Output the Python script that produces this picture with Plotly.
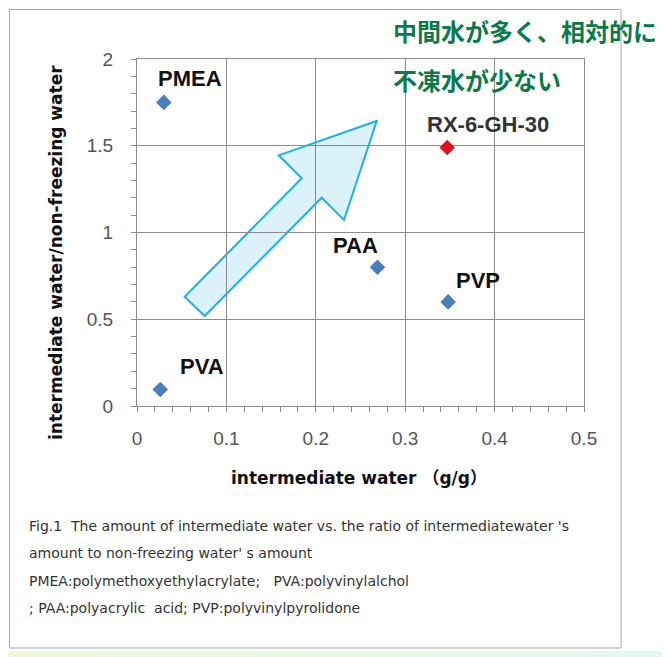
import plotly.graph_objects as go

# ---- data ----
names = ["PMEA", "PVA", "PAA", "PVP", "RX-6-GH-30"]
x_vals = [0.030, 0.026, 0.269, 0.348, 0.347]
y_vals = [1.75, 0.095, 0.80, 0.60, 1.49]
colors = ["#4a7ebb", "#4a7ebb", "#4a7ebb", "#4a7ebb", "#e0101e"]
label_colors = ["#111111", "#111111", "#111111", "#111111", "#333333"]
# label offsets from the marker in pixels (dx, dy up)
label_dx = [26, 42, -22, 30, 41]
label_dy = [24, 23, 22, 21, 23]

x_ticks = [0, 0.1, 0.2, 0.3, 0.4, 0.5]
x_ticktext = ["0", "0.1", "0.2", "0.3", "0.4", "0.5"]
y_ticks = [0, 0.5, 1, 1.5, 2]
y_ticktext = ["0", "0.5", "1", "1.5", "2"]

x_title = "intermediate water\u00a0（g/g）"
y_title = "intermediate water/non-freezing water"
jp_lines = ["中間水が多く、相対的に", "不凍水が少ない"]
caption_lines = [
    "Fig.1\u00a0\u00a0The amount of intermediate water vs. the ratio of intermediatewater 's",
    "amount to non-freezing water' s amount",
    "PMEA:polymethoxyethylacrylate;\u00a0\u00a0 PVA:polyvinylalchol",
    "; PAA:polyacrylic\u00a0 acid; PVP:polyvinylpyrolidone",
]

# ---- layout geometry (screen pixels; page body has an 8px margin) ----
OFF = 8
SW, SH = 670, 657
W, H = SW - OFF, SH - OFF
L, R_EDGE, T, B_EDGE = 137 - OFF, 584 - OFF, 59 - OFF, 406 - OFF
PW, PH = R_EDGE - L, B_EDGE - T


def px(xs):
    return (xs - OFF - L) / PW


def py(ys):
    return (B_EDGE - (ys - OFF)) / PH


fig = go.Figure()
fig.add_trace(go.Scatter(
    x=x_vals, y=y_vals, mode="markers",
    marker=dict(symbol="diamond", size=12, color=colors, line=dict(width=0)),
    hoverinfo="skip", showlegend=False,
))

annotations = []
for n, xv, yv, c, dx, dy in zip(names, x_vals, y_vals, label_colors, label_dx, label_dy):
    annotations.append(dict(
        x=xv, y=yv, xref="x", yref="y", text=f"<b>{n}</b>", showarrow=False,
        xanchor="center", yanchor="middle",
        xshift=dx, yshift=dy, font=dict(family="Liberation Sans", size=22, color=c),
    ))

annotations.append(dict(
    x=px(56), y=py(253), xref="paper", yref="paper", text=f"<b>{y_title}</b>",
    showarrow=False, textangle=-90, xanchor="center", yanchor="middle",
    font=dict(family="DejaVu Sans", size=17, color="#111111"),
))
annotations.append(dict(
    x=px(359), y=py(478), xref="paper", yref="paper", text=f"<b>{x_title}</b>",
    showarrow=False, xanchor="center", yanchor="middle",
    font=dict(family="DejaVu Sans, Noto Sans CJK JP", size=17, color="#111111"),
))
for i, line in enumerate(jp_lines):
    annotations.append(dict(
        x=px(391), y=py([31, 80][i]), xref="paper", yref="paper", text=f"<b>{line}</b>",
        showarrow=False, xanchor="left", yanchor="middle",
        font=dict(family="Noto Sans CJK JP", size=24, color="#0b7a4b"),
    ))
for i, line in enumerate(caption_lines):
    annotations.append(dict(
        x=px(27), y=py([526, 553, 581, 608][i]), xref="paper", yref="paper", text=line,
        showarrow=False, xanchor="left", yanchor="middle",
        font=dict(family="DejaVu Sans", size=14, color="#333333"),
    ))

shapes = []
# outer frame
shapes.append(dict(type="rect", xref="paper", yref="paper",
                   x0=px(9.5), x1=px(621), y0=py(648), y1=py(9.5),
                   line=dict(color="#a8a8a8", width=1), fillcolor="rgba(0,0,0,0)", layer="below"))
# bottom gradient strip
n_strips = 40
c0 = (238, 248, 214)
c1 = (226, 248, 240)
for i in range(n_strips):
    t = i / (n_strips - 1)
    c = tuple(int(round(a + (b - a) * t)) for a, b in zip(c0, c1))
    shapes.append(dict(type="rect", xref="paper", yref="paper",
                       x0=px(OFF + W * i / n_strips), x1=px(OFF + W * (i + 1) / n_strips + 0.5),
                       y0=py(SH), y1=py(651), line=dict(width=0),
                       fillcolor=f"rgb{c}", layer="below"))
# arrow (screen-pixel vertices)
arrow_px = [(376.7, 121), (278.7, 155.3), (301.7, 178.3), (184.7, 296.7),
            (204.7, 316), (321.7, 197.7), (344, 220)]
path = "M " + " L ".join(f"{px(a):.5f},{py(b):.5f}" for a, b in arrow_px) + " Z"
shapes.append(dict(type="path", xref="paper", yref="paper", path=path,
                   fillcolor="#dcf2fb", line=dict(color="#1cb0e8", width=2), layer="below"))

axis_common = dict(
    showline=True, linecolor="#8c8c8c", linewidth=1, mirror=True,
    showgrid=True, gridcolor="#8c8c8c", gridwidth=1, zeroline=False,
    ticks="outside", ticklen=5, tickcolor="#8c8c8c",
    tickfont=dict(family="Liberation Sans", size=19, color="#555555"),
)

fig.update_layout(
    width=W, height=H,
    margin=dict(l=L, r=W - R_EDGE, t=T, b=H - B_EDGE, pad=0),
    paper_bgcolor="white", plot_bgcolor="rgba(0,0,0,0)",
    xaxis=dict(range=[0, 0.5], tickvals=x_ticks, ticktext=x_ticktext,
               minor=dict(dtick=0.02, ticks="outside", ticklen=5, tickcolor="#8c8c8c", showgrid=False),
               ticklabelstandoff=10, **axis_common),
    yaxis=dict(range=[0, 2], tickvals=y_ticks, ticktext=y_ticktext,
               minor=dict(dtick=0.1, ticks="outside", ticklen=5, tickcolor="#8c8c8c", showgrid=False),
               ticklabelstandoff=14, **axis_common),
    annotations=annotations, shapes=shapes,
)

fig.write_html("out.html")
